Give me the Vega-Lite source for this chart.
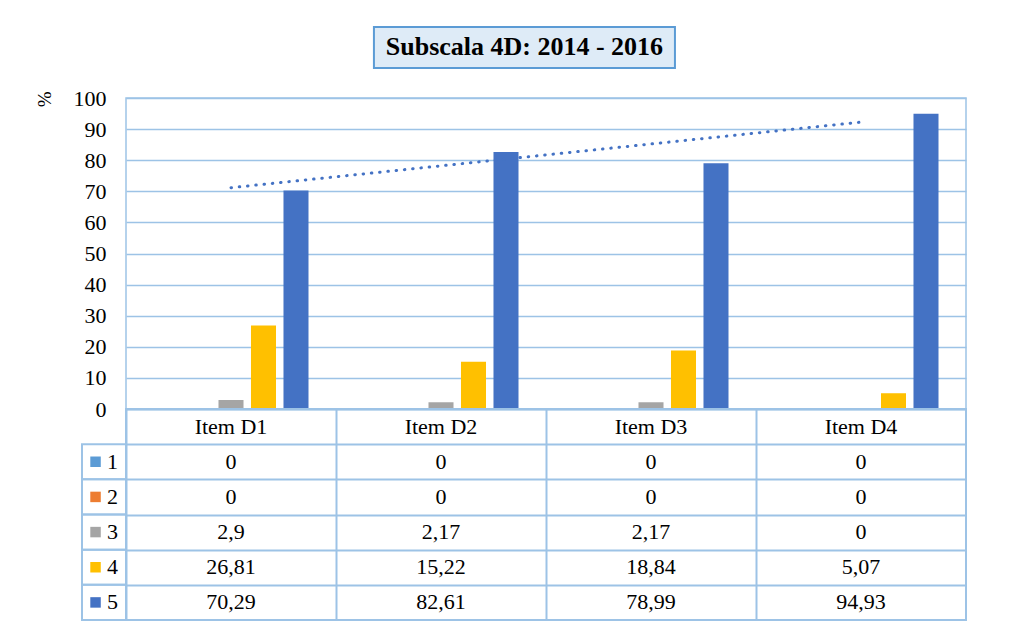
{
  "$schema": "https://vega.github.io/schema/vega-lite/v6.json",
  "padding": {"left": 34, "top": 26, "right": 0, "bottom": 0},
  "background": "white",
  "datasets": {
    "scores": [
      {"item": "Item D1", "series": "1", "value": 0},
      {"item": "Item D1", "series": "2", "value": 0},
      {"item": "Item D1", "series": "3", "value": 2.9},
      {"item": "Item D1", "series": "4", "value": 26.81},
      {"item": "Item D1", "series": "5", "value": 70.29},
      {"item": "Item D2", "series": "1", "value": 0},
      {"item": "Item D2", "series": "2", "value": 0},
      {"item": "Item D2", "series": "3", "value": 2.17},
      {"item": "Item D2", "series": "4", "value": 15.22},
      {"item": "Item D2", "series": "5", "value": 82.61},
      {"item": "Item D3", "series": "1", "value": 0},
      {"item": "Item D3", "series": "2", "value": 0},
      {"item": "Item D3", "series": "3", "value": 2.17},
      {"item": "Item D3", "series": "4", "value": 18.84},
      {"item": "Item D3", "series": "5", "value": 78.99},
      {"item": "Item D4", "series": "1", "value": 0},
      {"item": "Item D4", "series": "2", "value": 0},
      {"item": "Item D4", "series": "3", "value": 0},
      {"item": "Item D4", "series": "4", "value": 5.07},
      {"item": "Item D4", "series": "5", "value": 94.93}
    ],
    "items": [{"item": "Item D1"}, {"item": "Item D2"}, {"item": "Item D3"}, {"item": "Item D4"}],
    "series": [{"series": "1"}, {"series": "2"}, {"series": "3"}, {"series": "4"}, {"series": "5"}],
    "trend": [{"item": "Item D1", "trend": 71.16}, {"item": "Item D4", "trend": 92.25}],
    "title": [{"part": "box", "label": "Subscala 4D: 2014 - 2016"}]
  },
  "config": {
    "font": "Liberation Serif",
    "view": {"stroke": "#9DC3E6", "strokeWidth": 1.5},
    "axis": {"labelFont": "Liberation Serif", "titleFont": "Liberation Serif"},
    "text": {"font": "Liberation Serif", "fontSize": 22, "color": "#000000"},
    "locale": {"number": {"decimal": ",", "thousands": ".", "grouping": [3], "currency": ["", " €"]}}
  },
  "columns": 2,
  "spacing": 0,
  "bounds": "flush",
  "concat": [
    {
      "width": 44,
      "height": 71,
      "view": {"stroke": null},
      "data": {"values": [{"t": ""}]},
      "mark": {"type": "text"},
      "encoding": {"text": {"field": "t"}}
    },
    {
      "data": {"name": "title"},
      "width": 840,
      "height": 71,
      "view": {"stroke": null},
      "layer": [
        {
          "mark": {"type": "rect", "fill": "#DEEBF7", "stroke": "#5B9BD5", "strokeWidth": 2},
          "encoding": {
            "x": {"field": "part", "type": "nominal", "scale": {"domain": ["box"], "paddingInner": 0, "paddingOuter": 0.8953, "align": 0.46}, "axis": null},
            "y": {"field": "part", "type": "nominal", "scale": {"domain": ["box"], "paddingInner": 0, "paddingOuter": 0.366, "align": 0}, "axis": null}
          }
        },
        {
          "mark": {"type": "text", "fontSize": 26, "fontWeight": "bold", "align": "center", "baseline": "middle"},
          "encoding": {
            "x": {"field": "part", "type": "nominal"},
            "y": {"field": "part", "type": "nominal"},
            "text": {"field": "label"}
          }
        }
      ]
    },
    {
      "width": 44,
      "height": 311,
      "view": {"stroke": null},
      "data": {"values": [{"t": ""}]},
      "mark": {"type": "text"},
      "encoding": {"text": {"field": "t"}}
    },
    {
      "width": 840,
      "height": 311,
      "layer": [
        {
          "data": {"name": "scores"},
          "mark": {"type": "bar"},
          "encoding": {
            "x": {"field": "item", "type": "nominal", "scale": {"domain": ["Item D1", "Item D2", "Item D3", "Item D4"], "paddingInner": 0, "paddingOuter": 0}, "axis": null},
            "xOffset": {"field": "series", "type": "nominal", "scale": {"domain": ["1", "2", "3", "4", "5"], "paddingInner": 0.23, "paddingOuter": 0.846}},
            "y": {
              "field": "value", "type": "quantitative",
              "scale": {"domain": [0, 100], "nice": false},
              "axis": {
                "title": "%", "values": [0, 10, 20, 30, 40, 50, 60, 70, 80, 90, 100], "tickCount": 11,
                "labelOverlap": false,
                "grid": true, "gridColor": "#9DC3E6", "gridWidth": 1.5,
                "ticks": false, "domain": false,
                "labelFontSize": 22, "labelColor": "#000000", "labelPadding": 20,
                "titleFontSize": 19, "titleFontWeight": "normal", "titleColor": "#000000",
                "titleAnchor": "end", "titlePadding": 19, "titleY": -7
              }
            },
            "color": {"field": "series", "type": "nominal", "scale": {"domain": ["1", "2", "3", "4", "5"], "range": ["#5B9BD5", "#ED7D31", "#A5A5A5", "#FFC000", "#4472C4"]}, "legend": null}
          }
        },
        {
          "data": {"name": "trend"},
          "mark": {"type": "line", "color": "#4472C4", "strokeWidth": 3, "strokeDash": [0.5, 7.8], "strokeCap": "round"},
          "encoding": {
            "x": {"field": "item", "type": "nominal"},
            "y": {"field": "trend", "type": "quantitative"}
          }
        }
      ]
    },
    {
      "width": 44,
      "height": 211,
      "view": {"stroke": null},
      "data": {"name": "series"},
      "layer": [
        {
          "mark": {"type": "rect", "filled": false, "stroke": "#9DC3E6", "strokeWidth": 2},
          "encoding": {
            "y": {"field": "series", "type": "nominal", "scale": {"domain": ["h", "1", "2", "3", "4", "5"], "paddingInner": 0, "paddingOuter": 0}, "axis": null}
          }
        },
        {
          "mark": {"type": "square", "filled": true, "size": 110, "opacity": 1},
          "encoding": {
            "x": {"datum": "key", "type": "nominal", "scale": {"type": "point", "domain": ["key", "num"], "padding": 0.8}, "axis": null},
            "y": {"field": "series", "type": "nominal"},
            "color": {"field": "series", "type": "nominal", "scale": {"domain": ["1", "2", "3", "4", "5"], "range": ["#5B9BD5", "#ED7D31", "#A5A5A5", "#FFC000", "#4472C4"]}, "legend": null}
          }
        },
        {
          "mark": {"type": "text", "fontSize": 22, "align": "center", "baseline": "middle"},
          "encoding": {
            "x": {"datum": "num", "type": "nominal"},
            "y": {"field": "series", "type": "nominal"},
            "text": {"field": "series"}
          }
        }
      ]
    },
    {
      "width": 840,
      "height": 211,
      "view": {"stroke": "#9DC3E6", "strokeWidth": 2},
      "layer": [
        {
          "data": {"name": "items"},
          "mark": {"type": "text", "fontSize": 22, "align": "center", "baseline": "middle"},
          "encoding": {
            "x": {"field": "item", "type": "nominal", "scale": {"domain": ["Item D1", "Item D2", "Item D3", "Item D4"], "paddingInner": 0, "paddingOuter": 0},
              "axis": {"grid": true, "tickBand": "extent", "gridColor": "#9DC3E6", "gridWidth": 2, "labels": false, "ticks": false, "domain": false, "title": null}},
            "y": {"datum": "h", "type": "nominal", "scale": {"domain": ["h", "1", "2", "3", "4", "5"], "paddingInner": 0, "paddingOuter": 0},
              "axis": {"grid": true, "tickBand": "extent", "gridColor": "#9DC3E6", "gridWidth": 2, "labels": false, "ticks": false, "domain": false, "title": null}},
            "text": {"field": "item"}
          }
        },
        {
          "data": {"name": "scores"},
          "mark": {"type": "text", "fontSize": 22, "align": "center", "baseline": "middle"},
          "encoding": {
            "x": {"field": "item", "type": "nominal"},
            "y": {"field": "series", "type": "nominal"},
            "text": {"field": "value", "type": "quantitative", "format": "~g"}
          }
        }
      ]
    }
  ]
}
